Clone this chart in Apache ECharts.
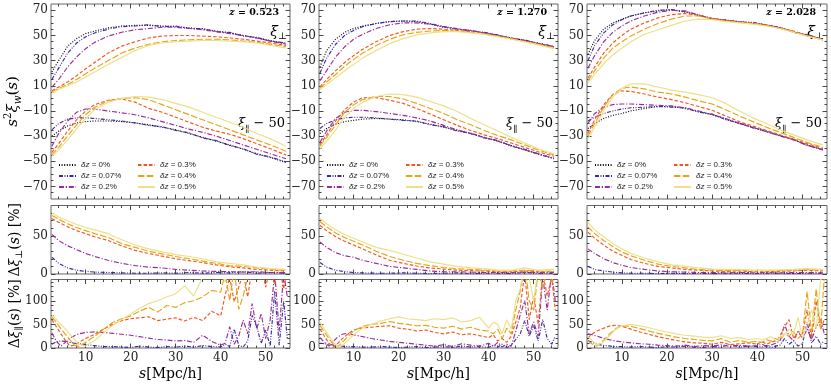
<!DOCTYPE html>
<html><head><meta charset="utf-8">
<script src="https://cdn.jsdelivr.net/npm/echarts@6/dist/echarts.min.js"></script>
<style>html,body{margin:0;padding:0;background:#fff}#c{width:831px;height:387px}</style>
</head><body><div id="c"></div>
<script>
// ---------------- data ----------------
const redshifts = ['0.523', '1.270', '2.028'];
const dzLabels = ['δz = 0%', 'δz = 0.07%', 'δz = 0.2%', 'δz = 0.3%', 'δz = 0.4%', 'δz = 0.5%'];
const xTicks = [10, 20, 30, 40, 50];
const xMinor = [4, 6, 8, 12, 14, 16, 18, 22, 24, 26, 28, 32, 34, 36, 38, 42, 44, 46, 48, 52, 54];
const yTicksTop = [-70, -50, -30, -10, 10, 30, 50, 70];
const yTicksMid = [0, 50];
const yTicksBot = [0, 50, 100];

const sTop = [2.5, 4, 6, 8, 10, 12, 15, 18, 21, 24, 27, 30, 33, 36, 39, 42, 45, 48, 51, 54.5];
const sBot = [2.5, 3.5, 4.5, 5.5, 6.5, 7.5, 8.5, 10, 12, 14, 16, 18, 20, 22, 24, 26, 28, 30, 32, 34, 36, 38, 40, 41, 42, 43, 44, 45, 46, 47, 48, 49, 50, 51, 52, 53, 54, 54.8];

// s^2 xi_perp, z = 0.523 (dz = 0, 0.07, 0.2, 0.3, 0.4, 0.5 %)
const perpZ1 = [
  [21,30,41.5,47.5,51.5,53.5,56,57.5,58,58,57.5,57,56,55,53.5,52,50,48,46,43.5],
  [15,24,36,44,49,52,55,57,57.5,58.5,57,57.5,55.5,55.5,53,52.5,49.5,48.5,45.5,44],
  [9,15,25,33,39.5,44.5,49.5,52.5,54.5,55.5,56.5,56.5,55.5,54.5,53,51.5,50,48,45.5,43],
  [6,9,13,18,23.5,28.5,36,41.5,45,48,49.5,50,50,49.5,49,48,47,45.5,44,42],
  [5,8,11,15,19.5,24,30,36,40,43,45,46,46.5,47,47,46.5,45.5,44.5,43,41],
  [4.5,7,10,13,17,21,27,32.5,38,42,44,45,45.5,46,46,45.5,45,44,42,40]
];
// s^2 xi_par - 50, z = 0.523
const parZ1 = [
  [-30,-26,-22,-19.5,-18.5,-18,-18,-18.5,-19.5,-21,-23,-25,-28,-31,-34,-37,-40.5,-44,-47,-51],
  [-25,-20,-16.5,-15.5,-15.5,-16,-17,-18,-19.5,-21.5,-22.5,-25.5,-27.5,-31.5,-33.5,-37.5,-40,-44.5,-46.5,-50.5],
  [-38,-28,-18,-11,-8.5,-8.5,-10,-11.5,-13,-15.5,-18.5,-21.5,-24.5,-27,-30,-33.5,-37,-40.5,-44,-48],
  [-43,-36,-26,-17,-10,-5,-1.5,-0.5,-3,-8,-11,-15,-19,-23,-26,-28.5,-32,-36,-40,-45],
  [-45,-39,-30,-21,-13,-7,-2,0,0.5,-1,-5,-9,-13,-17,-21,-25,-29,-33,-37,-42],
  [-46,-41,-33,-24,-16,-9,-3,0,1.5,1,-1,-4,-7,-11,-15,-19,-23,-28,-32,-38]
];
const perpZ2 = [
  [25,38,47,52.5,55.5,57.5,59.5,61,61.5,61,59,56.5,55,54,52,50,48,46,44,41],
  [20,32,43,50,54,57,59.5,61,61.5,61.5,59.5,57,55.5,53.5,52.5,50.5,47.5,46.5,43.5,41.5],
  [14,22,33,41,47,51,55.5,58.5,60,60,59,57,55,54,52,50,48,46,43.5,41],
  [9,15,22,28.5,34,39,45,50,53,55,55.5,55,54,53,51.5,49.5,47.5,45.5,43,40.5],
  [8,13,19,25.5,31,36,42,47,50.5,52.5,53.5,54,53.5,52.5,51,49.5,47.5,45,43,40],
  [7,11,16.5,22,27,32,38,43.5,47.5,50.5,52,53,53,52,51,49,47,45,42.5,39.5]
];
const parZ2 = [
  [-28,-24,-20.5,-18.5,-17.5,-16.5,-16,-16.5,-17,-18.5,-20.5,-23,-25.5,-28,-31,-34,-37.5,-41,-44,-48],
  [-24,-20,-17,-15.5,-15,-15,-15.5,-16.5,-17.5,-18,-21,-22.5,-26,-27.5,-31.5,-33.5,-38,-40.5,-44.5,-47.5],
  [-35,-26,-16,-11,-9.5,-9.5,-10.5,-12,-13.5,-15.5,-18,-21.5,-25,-28,-31,-34,-37.5,-41,-44,-48],
  [-37,-29,-18,-9,-3,0.5,0.5,-1.5,-4,-8,-12.5,-17,-21.5,-25.5,-29,-32,-35.5,-39,-42.5,-46],
  [-38,-31,-21,-11,-5,-1,1.5,1.5,-0.5,-4,-8,-12,-17,-21,-25.5,-29.5,-33,-37,-41,-45],
  [-40,-34,-25,-15,-8,-3,1.5,3.5,3,1,-2.5,-6,-10.5,-16,-21,-26,-31,-35.5,-40,-44]
];
const perpZ3 = [
  [35,46,55,60,63,65.5,68,69.5,70.5,68.5,66,63.5,62,61,60,58.5,56,53,50,47],
  [30,42,52,58.5,62.5,65.5,68,70,70.5,69,66.5,63,62.5,60.5,60.5,58,56.5,52.5,50.5,46.5],
  [24,34,45,52.5,57.5,61.5,65.5,68.5,70,69.5,66,63.5,62,61,59.5,58.5,56,53,50,47],
  [16,25,36,44,50,55,60,64,66.5,67.5,66,63.5,62,60.5,60,58,56,53.5,50,47],
  [14,22,32,40,45,49.5,55,59.5,63,65.5,65.5,63,61.5,60.5,59.5,58,55.5,53,49.5,46.5],
  [12,19,27.5,34.5,40,45,51,54.5,58,61.5,63,62.5,61,60,59,57.5,55.5,52.5,49.5,46.5]
];
const parZ3 = [
  [-24,-20,-16,-13.5,-12,-10,-8,-6.5,-6.5,-8,-10.5,-13,-16.5,-20,-23,-26.5,-29.5,-33,-37,-41],
  [-18,-15,-12,-10,-8.5,-7.5,-7,-6.5,-7,-7.5,-11,-12.5,-17,-19.5,-23.5,-26,-30,-32.5,-37.5,-40.5],
  [-20,-12,-7,-5,-4.5,-4.5,-5,-5.5,-6,-7.5,-10,-13,-16,-20,-23,-26.5,-29.5,-33,-37,-41],
  [-28,-17,-5,3,6,5.5,3.5,1,-1,-3.5,-6.5,-9.5,-14,-18.5,-22,-25.5,-29,-32.5,-36,-40],
  [-30,-20,-7,3,8,9,7.5,5,3.5,1,-2,-4.5,-9,-14,-18.5,-23,-27,-31,-35,-39],
  [-32,-23,-10,1,8,11.5,11.5,9,6.5,5,3,0.5,-4,-10,-15.5,-20,-25,-29,-33,-37]
];

// Delta xi_perp [%] (dz = 0.07 ... 0.5 %)
const dPerpZ1 = [
  [22,14,8,5,3.5,2.5,2,1.5,1,1,1.5,1,2,1,2,1.5,3,1,2,1],
  [52,44,37,32,27,23,18,14,11,9,8,6,5,4,3.5,3,2.5,3,2,2],
  [73,68,62,57,53,49,44,37,31,27,23.5,20,17.5,15,12,9.5,8,6,5,4],
  [77,72,66,61,57,53,48,40,35,30,26.5,23,20,17,14,11,10,8,6,5],
  [80,75,70,65,61,58,53,45,38,33,29,25.5,23,20,16,14,12,9,7,6]
];
const dPerpZ2 = [
  [15,9,5,3,2,1.5,1,1,1.5,1,0.5,1,1.5,0.5,1,1,0.5,2,1,1],
  [42,35,28,24,22,18,14,10,8,6,4,3,3,2.5,2,2,2,2.5,2,2],
  [64,57,49,43,38,33,25,18,14,10.5,8,6.5,5,4.5,4,3,3,4,3,3],
  [69,62,54,48,43,38,30,23,18,14,11,8.5,7,6,5,4,4,5,4,4],
  [73,66,58,52,47,42,35,31,26,21,16,13,10,8,7,5,5,8,5,6]
];
const dPerpZ3 = [
  [10,6,4,2.5,1.5,1,1,0.5,1,0.5,1,0.5,1,1,0.5,1,1,0.5,1,1],
  [33,27,20,15,11.5,8.5,6,4,3,2.5,2,2,1.5,2,1.5,2,1.5,2,2,1.5],
  [55,47,38,30,24.5,19,14,10,8,6,5,4,3.5,4,3,3,3.5,4,5,4],
  [62,53,44,36,29,24,18,13,10,8,6,5,4.5,5,4,4,4.5,5,6,5],
  [68,58,49,40,33,27,21,16,12,10,8,6.5,6,6,5,5,5.5,6,7,6]
];

// Delta xi_par [%] (dz = 0.07 ... 0.5 %)
const dParZ1 = [
  [8,13,15,14,12,10,9, 7,5,3,3,2,1,4,2,1,3,2,4,2,5,3,2, 8,3,40,6,2,15,69,45,10,38,4,120,6,100, 20],
  [32,14,4,12,20,26,30, 33,34,33,31,29,27,24,21,18,17,15,16,12,27,14,6, 10,45,8,25,59,30,94,40,73,20,60,160,35,160, 108],
  [60,45,30,16,4,6,12, 20,29,40,50,58,62,64,66,58,61,64,57,65,58,78,68, 112,150,98,128,160,108,170,150,180,129,170,135,175,125, 170],
  [66,54,41,29,17,6,3, 12,25,40,54,62,68,78,86,76,90,86,96,100,108,122,118, 160,100,170,82,110,150,180,170,200,160,200,180,200,190, 200],
  [70,60,50,40,29,18,8, 4,16,32,48,60,72,84,94,100,108,115,132,110,150,190,170, 140,200,180,190,200,170,200,190,200,180,200,190,200,180, 200]
];
const dParZ2 = [
  [10,9,8,6,5,4,3, 3,2,2,3,2,1,2,3,1,2,3,1,4,2,3,1, 6,2,8,1,5,18,30,58,25,48,15,60,20,8, 25],
  [22,12,4,14,24,29,31, 28,24,20,17,14,12,10,8,6,4,7,3,9,6,4,10, 3,12,2,8,4,35,70,100,30,55,25,150,80,160, 100],
  [40,25,10,2,10,20,28, 38,43,44,46,47,42,40,36,38,33,30,34,28,30,26,22, 28,15,20,12,25,55,85,160,60,110,50,160,110,150, 80],
  [48,34,20,8,3,12,22, 36,46,50,52,56,52,50,47,48,44,42,46,40,44,38,36, 30,40,20,42,30,80,120,180,100,80,160,130,160,140, 160],
  [55,40,26,12,3,6,14, 28,42,50,57,62,66,62,60,58,62,60,64,55,58,65,42, 55,50,30,60,40,100,125,180,150,100,170,150,180,170, 150]
];
const dParZ3 = [
  [15,12,8,6,5,4,3, 3,2,3,2,1,3,2,4,2,1,3,2,8,2,4,3, 2,5,1,4,6,20,8,15,4,10,55,10,25,8, 15],
  [30,28,25,22,19,17,15, 13,11,9,8,6,5,4,6,3,5,4,7,3,6,4,5, 8,3,6,10,15,50,25,15,35,20,40,18,45,60, 30],
  [22,30,36,40,44,47,48, 46,40,34,29,24,20,16,13,11,10,8,12,7,9,11,8, 14,8,12,15,25,45,60,20,35,30,80,20,100,40, 60],
  [15,8,4,12,22,32,40, 47,46,41,36,31,27,23,20,18,16,15,20,12,16,12,14, 12,18,14,20,15,30,25,35,20,30,120,30,125,40, 150],
  [25,15,6,10,18,28,38, 47,50,47,43,38,34,30,27,25,23,22,26,20,22,18,20, 18,20,24,18,22,28,40,30,65,20,50,80,40,145, 150]
];

// ---------------- layout / style ----------------
const COLS = [{l: 51, w: 239}, {l: 319, w: 239}, {l: 587, w: 240}];
const ROWS = [{t: 4, h: 195}, {t: 205.5, h: 68.5}, {t: 279.5, h: 68.5}];
const X_RANGE = [2.3, 55.4];
const Y_RANGES = [[-80, 75], [0, 90], [0, 145]];
const COLORS = ['#000000', '#3b28a6', '#9a2c9a', '#f5561e', '#e8a516', '#ece088'];
const DASHES = [[1, 1.6], [4, 1.5, 1, 1.5, 1, 1.5], [5, 1.8, 1.2, 1.8], [3.5, 2], [6.5, 2.2], 'solid'];
const SERIF = 'DejaVu Serif';

function minorOf(lo, hi, step, majors) {
  const out = [];
  for (let v = lo + step; v < hi - 1e-9; v += step) if (!majors.includes(v)) out.push(v);
  return out;
}
const Y_MAJOR = [yTicksTop, yTicksMid, yTicksBot];
const Y_MINOR = [minorOf(-80, 75, 5, yTicksTop), minorOf(0, 90, 10, yTicksMid), minorOf(0, 145, 10, yTicksBot)];
const fmtY = v => (v < 0 ? '\u2212' + Math.abs(v) : String(v));

const grids = [], xAxes = [], yAxes = [], series = [], legends = [], texts = [];
const tickLine = {color: '#333', width: 0.9};

function addPanel(col, row) {
  const g = grids.length;
  grids.push({left: COLS[col].l, top: ROWS[row].t, width: COLS[col].w, height: ROWS[row].h,
    show: true, borderColor: '#666', borderWidth: 1, backgroundColor: 'transparent'});
  const xi = xAxes.length, yi = yAxes.length;
  [['bottom', xTicks, 4.5, true], ['bottom', xMinor, 2.5, false], ['top', xTicks, 4.5, false], ['top', xMinor, 2.5, false]]
    .forEach(([pos, vals, len, main]) => xAxes.push({
      type: 'value', gridIndex: g, position: pos, min: X_RANGE[0], max: X_RANGE[1],
      axisLine: {show: false, onZero: false}, splitLine: {show: false},
      axisTick: {show: true, inside: true, length: len, customValues: vals, lineStyle: tickLine},
      axisLabel: {show: main && row === 2, customValues: vals, margin: 4, fontFamily: SERIF, fontSize: 12, color: '#222'}
    }));
  [['left', Y_MAJOR[row], 4.5, true], ['left', Y_MINOR[row], 2.5, false], ['right', Y_MAJOR[row], 4.5, false], ['right', Y_MINOR[row], 2.5, false]]
    .forEach(([pos, vals, len, main]) => yAxes.push({
      type: 'value', gridIndex: g, position: pos, min: Y_RANGES[row][0], max: Y_RANGES[row][1],
      axisLine: {show: false, onZero: false}, splitLine: {show: false},
      axisTick: {show: true, inside: true, length: len, customValues: vals, lineStyle: tickLine},
      axisLabel: {show: main, customValues: vals, margin: 3, fontFamily: SERIF, fontSize: 12, color: '#222', formatter: fmtY}
    }));
  return [xi, yi];
}
function addLine(name, k, xi, yi, xs, ys) {
  series.push({
    type: 'line', name: name, xAxisIndex: xi, yAxisIndex: yi,
    data: xs.map((x, i) => [x, ys[i]]),
    showSymbol: false, symbol: 'none', clip: true, animation: false, silent: true,
    lineStyle: {color: COLORS[k], width: 1.15, type: DASHES[k]},
    itemStyle: {color: COLORS[k]}
  });
}

const topPerp = [perpZ1, perpZ2, perpZ3];
const topPar = [parZ1, parZ2, parZ3];
const midD = [dPerpZ1, dPerpZ2, dPerpZ3];
const botD = [dParZ1, dParZ2, dParZ3];

const mathRich = (fs) => ({
  n: {fontFamily: SERIF, fontSize: fs, lineHeight: 20, color: '#222'},
  i: {fontFamily: SERIF, fontStyle: 'italic', fontSize: fs, lineHeight: 20, color: '#222'},
  sup: {fontFamily: SERIF, fontSize: fs * 0.68, lineHeight: 10, verticalAlign: 'top', color: '#222'},
  sub: {fontFamily: SERIF, fontStyle: 'italic', fontSize: fs * 0.68, lineHeight: 10, verticalAlign: 'bottom', color: '#222'}
});

for (let c = 0; c < 3; c++) {
  const L = COLS[c].l, W = COLS[c].w;
  // top panel
  let [xi, yi] = addPanel(c, 0);
  for (let k = 0; k < 6; k++) addLine(dzLabels[k], k, xi, yi, sTop, topPerp[c][k]);
  for (let k = 0; k < 6; k++) addLine(dzLabels[k], k, xi, yi, sTop, topPar[c][k]);
  // middle panel
  [xi, yi] = addPanel(c, 1);
  for (let k = 1; k < 6; k++) addLine(dzLabels[k], k, xi, yi, sTop, midD[c][k - 1]);
  // bottom panel
  [xi, yi] = addPanel(c, 2);
  for (let k = 1; k < 6; k++) addLine(dzLabels[k], k, xi, yi, sBot, botD[c][k - 1]);

  // legends (two columns of three)
  [[0, 7], [3, 86]].forEach(([start, dx]) => legends.push({
    left: L + dx, top: 159.5, orient: 'vertical', padding: 0, itemGap: 0,
    itemWidth: 17, itemHeight: 8, selectedMode: false,
    itemStyle: {opacity: 0, borderWidth: 0},
    data: dzLabels.slice(start, start + 3),
    formatter: n => n.replace('δz', '{i|δz}'),
    textStyle: {fontFamily: 'Liberation Sans', fontSize: 8, color: '#222', lineHeight: 11,
      rich: {i: {fontFamily: 'Liberation Sans', fontStyle: 'italic', fontSize: 8, lineHeight: 11}}}
  }));

  // annotations
  texts.push({type: 'text', x: L + W - 11, y: 13, silent: true, style: {
    text: '{i|z} {b|= ' + redshifts[c] + '}', align: 'right', verticalAlign: 'middle',
    rich: {i: {fontFamily: SERIF, fontStyle: 'italic', fontWeight: 'bold', fontSize: 9.5, color: '#111'},
           b: {fontFamily: SERIF, fontWeight: 'bold', fontSize: 9.5, color: '#111'}}}});
  texts.push({type: 'text', x: L + W - 3, y: 32, silent: true, style: {
    text: '{i|ξ}{sub|⊥}', align: 'right', verticalAlign: 'middle', rich: mathRich(14)}});
  texts.push({type: 'text', x: L + W - 5, y: 124, silent: true, style: {
    text: '{i|ξ}{sub|∥}{n| − 50}', align: 'right', verticalAlign: 'middle', rich: mathRich(13)}});
  // x-axis title
  texts.push({type: 'text', x: L + W / 2, y: 374, silent: true, style: {
    text: '{i|s}{n|[Mpc/h]}', align: 'center', verticalAlign: 'middle', rich: mathRich(14)}});
}
// y-axis titles
texts.push({type: 'text', x: 13, y: ROWS[0].t + ROWS[0].h / 2, rotation: Math.PI / 2, silent: true, style: {
  text: '{i|s}{sup|2}{i|ξ}{sub|w}{n|(}{i|s}{n|)}', align: 'center', verticalAlign: 'middle', rich: mathRich(15)}});
texts.push({type: 'text', x: 15, y: ROWS[1].t + ROWS[1].h / 2, rotation: Math.PI / 2, silent: true, style: {
  text: '{n|Δ}{i|ξ}{sub|⊥}{n|(}{i|s}{n|) [%]}', align: 'center', verticalAlign: 'middle', rich: mathRich(14)}});
texts.push({type: 'text', x: 15, y: ROWS[2].t + ROWS[2].h / 2, rotation: Math.PI / 2, silent: true, style: {
  text: '{n|Δ}{i|ξ}{sub|∥}{n|(}{i|s}{n|) [%]}', align: 'center', verticalAlign: 'middle', rich: mathRich(14)}});

const chart = echarts.init(document.getElementById('c'), null, {renderer: 'canvas', width: 831, height: 387});
chart.setOption({
  animation: false,
  backgroundColor: '#ffffff',
  textStyle: {fontFamily: SERIF},
  grid: grids, xAxis: xAxes, yAxis: yAxes, series: series, legend: legends,
  graphic: {elements: texts}
});
</script>
</body></html>
